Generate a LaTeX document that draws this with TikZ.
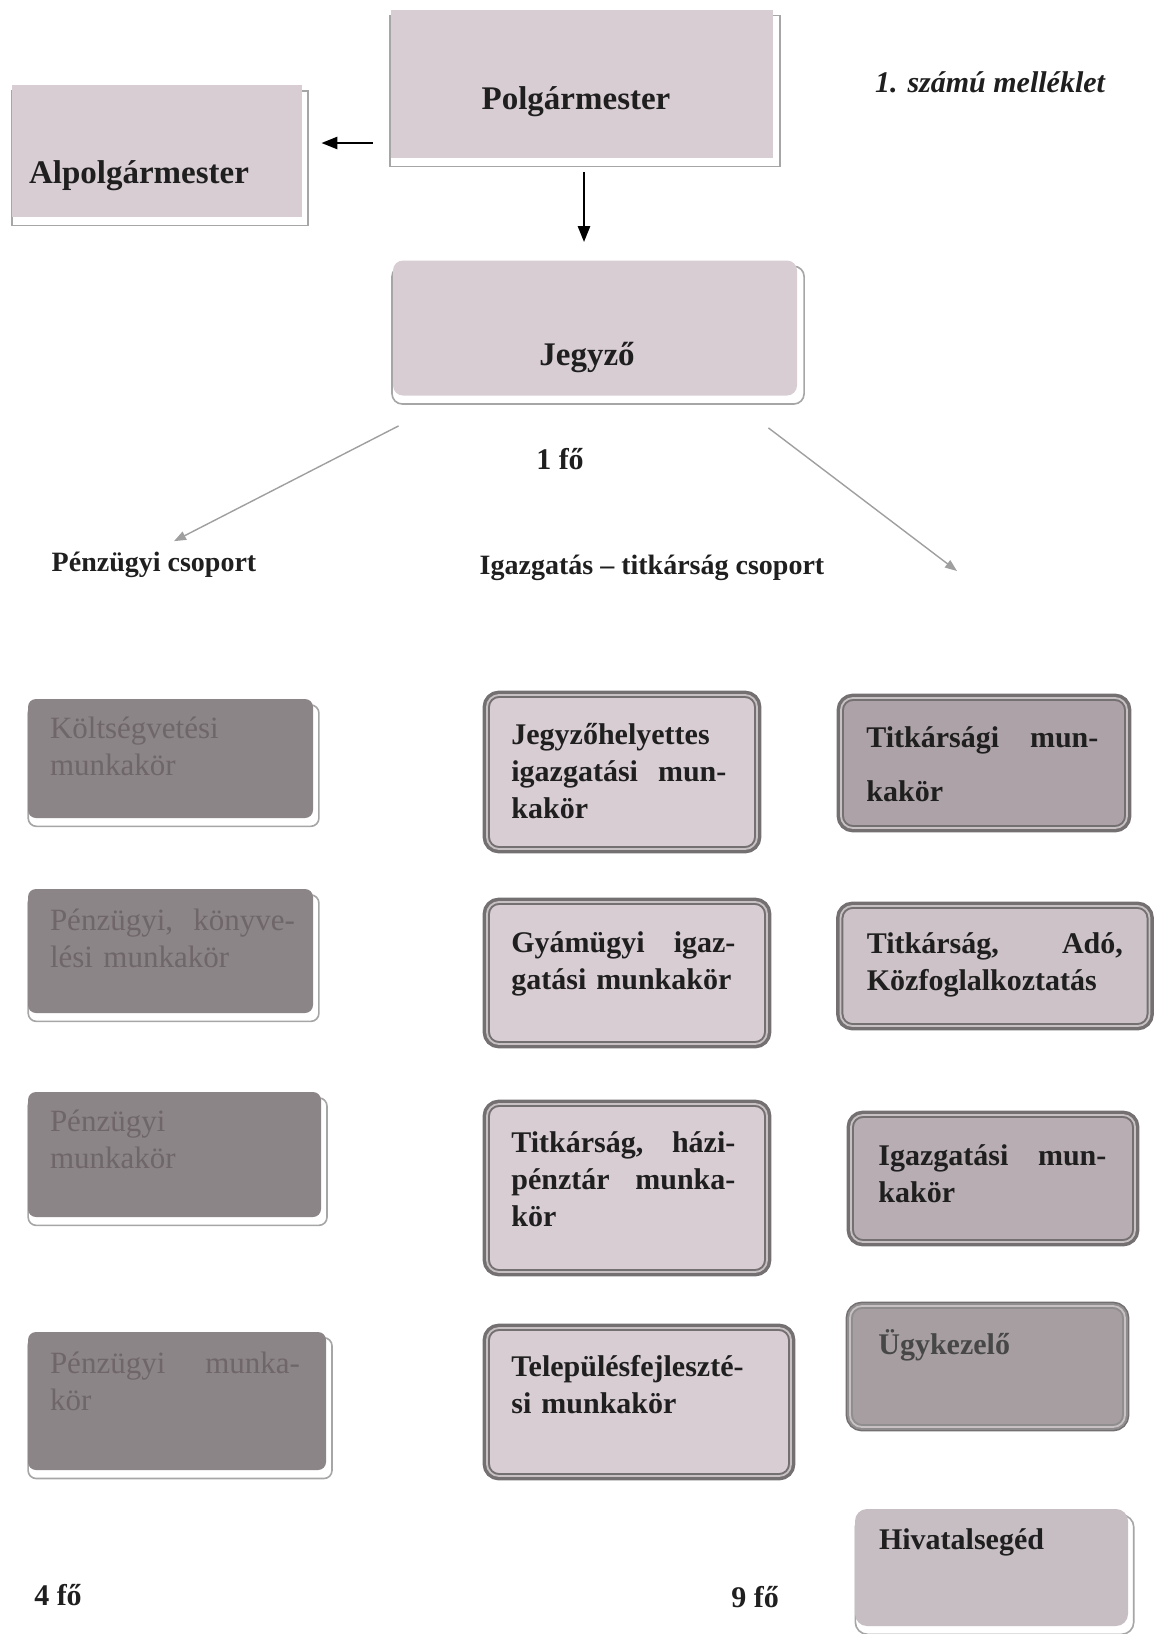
\documentclass[tikz,border=0pt]{standalone}
\usepackage{fontspec}
\setmainfont{Liberation Serif}
\usetikzlibrary{arrows.meta,shadows}

\definecolor{boxpink}{HTML}{D8CDD3}
\definecolor{boxdark}{HTML}{8C8588}
\definecolor{boxtext}{HTML}{6E6669}
\definecolor{rimgrey}{HTML}{747072}
\definecolor{rimlight}{HTML}{C8C1C4}
\definecolor{titkfill}{HTML}{ACA2A7}
\definecolor{adofill}{HTML}{CCC2C7}
\definecolor{igfill}{HTML}{B7ADB2}
\definecolor{ugyfill}{HTML}{A79EA2}
\definecolor{hivfill}{HTML}{C7BEC3}

% sorkizart sor: elso szo balra, masodik jobbra
\newcommand\sorkiz[2]{\leavevmode\hbox to\hsize{#1\hfill #2}}

\begin{document}
\begin{tikzpicture}[x=0.5pt, y=-0.5pt,
    every node/.style={inner sep=0pt, text=black!88},
    lapshadow/.style={drop shadow={shadow xshift=1.5pt, shadow yshift=-3.5pt, shadow scale=1.02,
        fill=white, draw=gray!70, line width=0.8pt, opacity=1}},
    fobox/.style={rectangle, fill=boxpink, lapshadow},
    pzbox/.style={rectangle, rounded corners=4pt, fill=boxdark, lapshadow},
    rimbox/.style={rectangle, rounded corners=6pt, fill=boxpink,
        preaction={draw=rimgrey, line width=4.4pt},
        draw=rimgrey, double=rimlight, double distance=0.9pt, line width=1pt},
    fotxt/.style={anchor=base, font=\fontsize{16.5}{20}\selectfont\bfseries},
    cstxt/.style={anchor=base, font=\fontsize{14}{17}\selectfont\bfseries},
    pztxt/.style={anchor=base west, text width=125pt, align=left,
        font=\fontsize{15.5}{18.5}\selectfont, text=boxtext},
    mktxt/.style={anchor=base west, text width=112pt, align=left,
        font=\fontsize{15}{18.5}\selectfont\bfseries},
    blk/.style={line width=1.3pt, -{Triangle[length=8pt,width=6pt]}},
    szurke/.style={draw=gray!75, line width=0.7pt, -{Triangle[length=6pt,width=4.5pt]}}]
\useasboundingbox (0,0) rectangle (1157,1634);

% vezetes
\node[fobox, minimum width=191pt, minimum height=74pt] (polg) at (582,84) {};
\node[fobox, minimum width=145pt, minimum height=66pt] (alpol) at (157,151) {};
\node[fobox, rounded corners=5pt, minimum width=202pt, minimum height=67.5pt] (jegyzo) at (595,328) {};
\node[fotxt] (polgtxt) at (576,109) {Polgármester};
\node[fotxt] (alpoltxt) at (139,183) {Alpolgármester};
\node[fotxt] (jegyzotxt) at (587,365) {Jegyző};
\node[anchor=base, font=\fontsize{15}{18}\selectfont\bfseries\itshape] (mell) at (990,92) {1. számú melléklet};

\draw[blk] ([shift={(-18,59)}]polg.west) -- ([shift={(19,-8)}]alpol.east);
\draw[blk] ([shift={(2,14)}]polg.south) -- ([shift={(-11,-18)}]jegyzo.north);

\node[anchor=base, font=\fontsize{15}{18}\selectfont\bfseries] (egyfo) at (560,469) {1 fő};
\node[cstxt] (pzcs) at (154,571) {Pénzügyi csoport};
\node[cstxt] (igcs) at (652,574) {Igazgatás -- titkárság csoport};
\coordinate (igvege) at (957,571);
\draw[szurke] ([shift={(6,30)}]jegyzo.south west) -- ([shift={(20,-10)}]pzcs.north);
\draw[szurke] ([shift={(-29,32)}]jegyzo.south east) -- (igvege);

% penzugyi csoport
\node[pzbox, minimum width=142.5pt, minimum height=59.5pt] (koltseg) at (170.5,758.5) {};
\node[pzbox, minimum width=142.5pt, minimum height=62pt] (konyv) at (170.5,951) {};
\node[pzbox, minimum width=146.5pt, minimum height=62.5pt] (penz) at (174.5,1154.5) {};
\node[pzbox, minimum width=149pt, minimum height=69pt] (penzmk) at (177,1401) {};
\node[pztxt] (koltsegtxt) at ([shift={(22,40)}]koltseg.north west) {Költségvetési\\munkakör};
\node[pztxt, text width=122.5pt] (konyvtxt) at ([shift={(22,42)}]konyv.north west) {\sorkiz{Pénzügyi,}{könyve-}\\lési munkakör};
\node[pztxt] (penztxt) at ([shift={(22,40)}]penz.north west) {Pénzügyi\\munkakör};
\node[pztxt] (penzmktxt) at ([shift={(22,42)}]penzmk.north west) {\sorkiz{Pénzügyi}{munka-}\\kör};

% igazgatas - titkarsag csoport
\node[rimbox, minimum width=135pt, minimum height=77pt] (helyettes) at (622,772) {};
\node[rimbox, minimum width=140pt, minimum height=71pt] (gyam) at (627,973) {};
\node[rimbox, minimum width=140pt, minimum height=84pt] (hazi) at (627,1188) {};
\node[rimbox, minimum width=152pt, minimum height=74pt] (telep) at (639,1402) {};
\node[mktxt, text width=107.5pt] (helyettestxt) at ([shift={(25,50)}]helyettes.north west)
    {Jegyzőhelyettes\\\sorkiz{igazgatási}{mun-}\\kakör};
\node[mktxt] (gyamtxt) at ([shift={(25,51)}]gyam.north west) {\sorkiz{Gyámügyi}{igaz-}\\gatási munkakör};
\node[mktxt] (hazitxt) at ([shift={(25,49)}]hazi.north west)
    {\sorkiz{Titkárság,}{házi-}\\\sorkiz{pénztár}{munka-}\\kör};
\node[mktxt, text width=125pt] (teleptxt) at ([shift={(25,49)}]telep.north west) {Településfejleszté-\\si munkakör};

\node[rimbox, fill=titkfill, minimum width=143pt, minimum height=65pt] (titk) at (984,763) {};
\node[rimbox, fill=adofill, minimum width=154.5pt, minimum height=60pt] (ado) at (995,966) {};
\node[rimbox, fill=igfill, minimum width=142pt, minimum height=63.5pt] (igmk) at (993,1178.5) {};
\node[rimbox, fill=ugyfill, draw=rimgrey!80, minimum width=137.5pt, minimum height=60.5pt] (ugyk) at (987.5,1366.5) {};
\node[pzbox, fill=hivfill, rounded corners=6pt, minimum width=136.5pt, minimum height=58.5pt] (hiv) at (991.5,1567.5) {};
\node[mktxt, text width=116pt, font=\fontsize{15}{27}\selectfont\bfseries] (titktxt) at ([shift={(26,50)}]titk.north west)
    {\sorkiz{Titkársági}{mun-}\\kakör};
\node[mktxt, text width=128pt] (adotxt) at ([shift={(27,48)}]ado.north west) {\sorkiz{Titkárság,}{Adó,}\\Közfoglalkoztatás};
\node[mktxt, text width=114pt] (igmktxt) at ([shift={(28,51)}]igmk.north west) {\sorkiz{Igazgatási}{mun-}\\kakör};
\node[mktxt, text=black!72] (ugyktxt) at ([shift={(29,49)}]ugyk.north west) {Ügykezelő};
\node[mktxt] (hivtxt) at ([shift={(24,41)}]hiv.north west) {Hivatalsegéd};

\node[anchor=base, font=\fontsize{15}{18}\selectfont\bfseries] (negyfo) at (58,1605) {4 fő};
\node[anchor=base, font=\fontsize{15}{18}\selectfont\bfseries] (kilencfo) at (755,1607) {9 fő};
\end{tikzpicture}
\end{document}
